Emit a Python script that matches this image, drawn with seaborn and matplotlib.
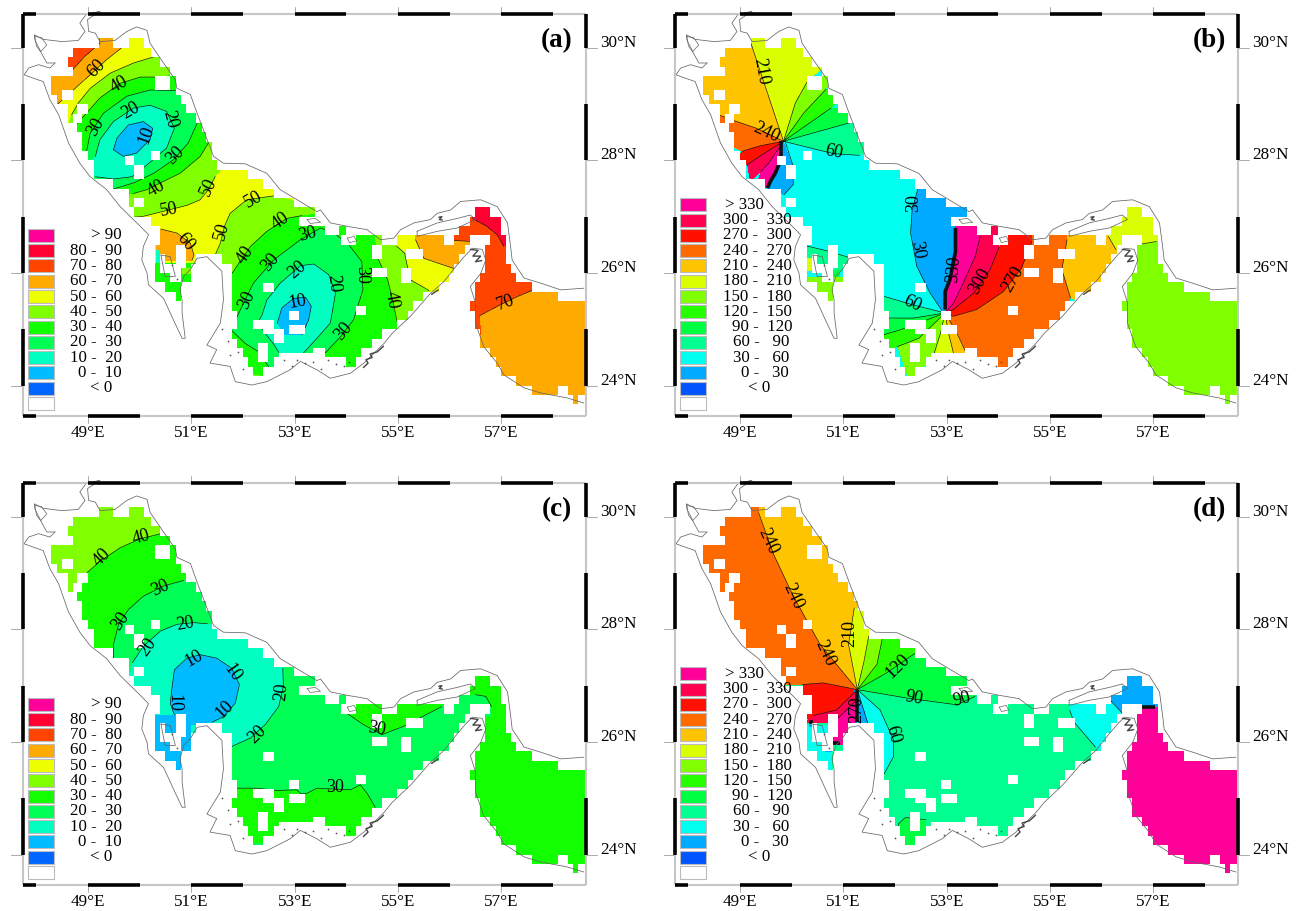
import numpy as np
import seaborn as sns
import matplotlib
matplotlib.use("Agg")
import matplotlib.pyplot as plt
from matplotlib.colors import ListedColormap
from matplotlib.patches import Rectangle
from matplotlib.path import Path

sns.set_style("white")
plt.rcParams['font.family'] = ['Liberation Serif', 'DejaVu Serif']
plt.rcParams['text.color'] = 'black'

# ---------------- shared map data (lon / lat) ----------------
ROW_TOP = 30.1667
ROW_H = 1 / 6
SEA_RUNS = [
 [(49.2,49.5),(49.8,50.1)],[(48.7,50.2)],[(48.6,50.4)],[(48.7,50.6)],[(48.3,50.7)],[(48.3,50.7)],
 [(48.4,50.8)],[(48.6,50.9)],[(48.6,51.1)],[(48.8,51.2)],[(48.9,51.3)],[(48.9,51.4)],[(49.0,51.4)],
 [(49.1,51.5)],[(49.1,52.1)],[(49.5,52.4)],[(49.8,52.6)],[(49.8,53.0)],[(49.9,53.4),(56.5,56.8)],
 [(50.2,53.1),(56.4,57.0)],[(50.4,54.0),(56.2,57.0)],[(50.4,54.7),(55.0,55.9),(56.1,56.4),(56.8,57.1)],
 [(50.3,56.3),(56.7,57.1)],[(50.3,51.1),(51.6,56.2),(56.7,57.1)],
 [(50.3,50.4),(50.8,51.0),(51.8,56.1),(56.7,57.2)],[(50.3,50.6),(50.8,51.0),(51.8,56.0),(56.6,57.3)],
 [(50.5,50.8),(51.8,55.8),(56.5,57.6)],[(50.7,50.8),(51.8,55.5),(56.5,58.1)],
 [(51.8,55.3),(56.4,58.63)],[(51.9,55.2),(56.5,58.63)],[(51.9,55.0),(56.5,58.63)],[(51.8,54.7),(56.6,58.63)],
 [(51.9,54.5),(56.6,58.63)],[(52.0,54.3),(56.8,58.63)],
 [(52.1,52.6),(54.0,54.2),(56.9,58.63)],[(52.2,52.4),(57.0,58.63)],[(57.3,58.63)],
 [(57.6,58.1),(58.3,58.63)],[(58.4,58.5)],
]
# blank cells: lat top, lat bottom, lon west, lon east
HOLES = [(29.5,29.25,50.3,50.6),(29.25,29.08,48.5,48.7),(29.0,28.83,48.8,49.0),(28.83,28.67,48.7,48.9),
 (28.17,28.0,50.2,50.4),(28.08,27.92,49.7,49.9),(27.92,27.67,49.9,50.1),(27.33,27.17,49.9,50.1),
 (25.83,25.67,52.4,52.6),(25.33,25.17,52.9,53.1),(25.17,25.0,52.2,52.6),(25.0,24.92,52.4,52.8),(24.92,24.75,52.6,52.8),
 (25.08,24.92,52.9,53.2),(24.75,24.42,52.3,52.5),(26.5,26.08,50.7,50.9),(26.33,26.08,50.4,50.5),
 (26.83,26.67,53.6,53.85),(26.67,26.5,53.9,54.2),(26.5,26.25,54.5,54.7),(26.42,26.25,55.15,55.5),
 (26.08,25.92,54.5,54.8),(26.08,25.83,55.05,55.25),(25.42,25.25,54.2,54.4),
 (24.58,24.5,52.7,53.6),(24.667,24.5,53.35,53.6)]

COAST_N = [(48.36,29.73),(48.20,29.73),(48.10,29.90),(47.97,30.14),(47.96,30.23),(48.13,30.15),(48.49,30.11),(48.81,30.13),
 (48.94,30.29),(48.84,30.44),(48.96,30.59),(49.23,30.65),(48.99,30.50),(49.01,30.29),(49.14,30.26),(49.23,30.11),
 (49.52,30.13),(49.75,30.29),(49.94,30.37),(50.14,30.31),(50.20,30.08),(50.46,29.73),(50.69,29.43),(50.72,29.28),
 (50.98,29.17),(51.11,28.84),(51.33,28.31),(51.43,28.07),(51.62,27.95),(52.04,27.94),(52.46,27.77),(52.72,27.48),
 (53.43,27.09),(53.50,27.12),(53.69,26.89),(54.01,26.83),(54.40,26.77),(54.66,26.59),(54.92,26.62),(55.05,26.77),
 (55.31,26.89),(55.63,26.95),(55.76,27.06),(56.02,27.12),(56.21,27.27),(56.60,27.30),(56.92,27.18),(57.12,26.89),
 (57.18,26.47),(57.21,26.23),(57.44,25.91),(57.76,25.82),(58.15,25.70),(58.60,25.73)]
COAST_S = [(48.36,29.73),(48.26,29.64),(48.04,29.70),(47.85,29.64),(47.76,29.52),(47.94,29.46),(48.13,29.40),(48.26,29.08),
 (48.43,28.81),(48.62,28.31),(48.84,27.95),(49.04,27.71),(49.36,27.48),(49.62,27.18),(50.01,26.83),(50.17,26.68),
 (50.07,26.47),(50.04,26.23),(50.14,26.00),(50.17,25.79),(50.46,25.55),(50.65,25.17),(50.82,24.84),(50.88,24.84),
 (50.82,25.29),(50.82,25.52),(50.78,25.70),(50.85,25.94),(50.98,26.06),(51.11,26.26),(51.30,26.29),(51.59,26.03),
 (51.62,25.52),(51.56,25.11),(51.30,24.72),(51.49,24.64),(51.36,24.40),(51.75,24.34),(51.85,24.07),(52.17,24.01),
 (52.46,24.07),(52.91,24.28),(53.11,24.43),(53.43,24.28),(53.69,24.13),(54.08,24.22),(54.34,24.40),(54.73,24.75),
 (54.89,24.93),(55.24,25.23),(55.63,25.64),(55.89,25.85),(56.15,26.15),(56.31,26.32),(56.44,26.44),(56.63,26.42),
 (56.70,26.23),(56.60,25.99),(56.40,25.76),(56.50,25.47),(56.50,25.11),(56.66,24.69),(56.92,24.40),(57.05,24.19),
 (57.44,23.96),(57.76,23.87),(58.28,23.78),(58.60,23.69)]
QESHM = [(55.37,26.74),(55.76,26.89),(56.15,26.97),(56.40,27.03),(56.50,26.95),(56.15,26.80),(55.76,26.74),(55.37,26.65),(55.37,26.74)]
BAHRAIN = [(50.41,26.32),(50.59,26.29),(50.69,25.94),(50.49,25.94),(50.41,26.32)]
ISLES = [
 [(53.24,26.95),(53.40,26.97),(53.5,26.90),(53.30,26.88),(53.24,26.95)],
 [(54.02,26.62),(54.15,26.65),(54.2,26.57),(54.06,26.54),(54.02,26.62)],
 [(47.97,30.2),(48.1,30.18),(48.2,30.05),(48.08,29.93),(48.0,30.03),(47.97,30.2)],
]
BLOTS = [
 [(54.33,24.32),(54.42,24.40),(54.38,24.46),(54.50,24.50),(54.46,24.56),(54.60,24.60),(54.72,24.70)],
 [(56.40,26.42),(56.55,26.40),(56.45,26.30),(56.60,26.30),(56.50,26.20),(56.62,26.22)],
 [(55.79,26.99),(55.85,27.0),(55.80,26.95),(55.86,26.94)],
 [(55.65,25.62),(55.78,25.70)],
]
ISLETS = [(50.62,26.14),(50.72,25.9),(51.6,25.0),(51.7,24.8),(51.9,24.6),(51.75,24.55),(52.0,24.3),(52.8,24.45),(52.95,24.35),
 (53.05,24.45),(53.2,24.4),(53.35,24.42),(53.5,24.3),(53.65,24.45),(53.8,24.38),(53.95,24.35),(54.05,24.42)]

LON_TICKS = [49, 51, 53, 55, 57]
LAT_TICKS = [30, 28, 26, 24]
BLACK_LON = [(47.73,48),(49,50),(51,52),(53,54),(55,56),(57,58)]
BLACK_LAT = [(30,30.6),(28,29),(26,27),(24,25)]

COL_AC = ['#0066FF','#00BBFF','#00FFC0','#00FF55','#11FF00','#80FF00','#EEFF00','#FFAA00','#FF4400','#FF0033','#FF0099']
COL_BD = ['#0055FF','#00AAFF','#00FFEE','#00FF90','#00FF40','#26FF00','#80FF00','#D9FF00','#FFC400','#FF6A00','#FF1000','#FF0050','#FF0099']
LEG_AC = ['> 90','80 -  90','70 -  80','60 -  70','50 -  60','40 -  50','30 -  40','20 -  30','10 -  20','0 -  10','< 0','']
LEG_BD = ['> 330','300 -  330','270 -  300','240 -  270','210 -  240','180 -  210','150 -  180','120 -  150','90 -  120',
          '60 -   90','30 -   60','0 -   30','< 0','']
LEG_RIGHT_AC = [122]*10 + [112, 122]
LEG_RIGHT_BD = [112] + [140]*8 + [137]*3 + [118, 140]

# ---------------- panel (a) ----------------
A70=[(49.23,30.08),(48.94,29.85),(48.68,29.59)]
A60=[(49.65,30.0),(49.36,29.79),(49.04,29.52),(48.75,29.28),(48.41,29.0)]
A50a=[(50.31,29.85),(49.88,29.73),(49.43,29.55),(49.04,29.28),(48.81,29.02),(48.68,28.81)]
A50b=[(51.46,27.71),(51.33,27.48),(51.17,27.30),(50.91,27.20),(50.52,27.11),(50.04,27.0),(49.85,26.99)]
A40a=[(50.46,29.48),(50.01,29.48),(49.62,29.37),(49.23,29.11),(48.91,28.78),(48.73,28.60)]
A40b=[(51.33,28.31),(51.17,28.07),(50.78,27.77),(50.40,27.60),(50.14,27.48),(49.87,27.41)]
A30a=[(50.69,29.24),(50.20,29.25),(49.75,29.14),(49.30,28.84),(49.04,28.48),(48.97,28.16)]
A30b=[(51.14,28.72),(50.94,28.31),(50.65,28.01),(50.27,27.77),(49.88,27.60),(49.49,27.49)]
A20=[(49.14,28.07),(49.23,28.37),(49.49,28.69),(49.88,28.93),(50.20,28.98),(50.52,28.87),(50.67,28.57),(50.52,28.22),
     (50.14,27.92),(49.85,27.71),(49.49,27.67),(49.14,27.71)]
A10=[(49.49,28.19),(49.56,28.40),(49.78,28.63),(50.07,28.69),(50.25,28.57),(50.20,28.37),(49.94,28.13),(49.68,28.07),(49.49,28.19)]
E50c=[(52.59,27.37),(52.07,27.30),(51.75,27.06),(51.64,26.83),(51.56,26.53),(51.46,26.32)]
E50r=[(54.97,26.48),(55.13,26.35),(55.18,26.12),(55.24,25.88),(55.60,25.69)]
E40=[(53.14,27.02),(52.85,26.97),(52.46,26.74),(52.14,26.47),(51.77,25.97)]
E40r=[(54.61,26.26),(54.80,25.88),(54.91,25.47),(54.98,25.14)]
E30a=[(51.86,25.17),(51.95,25.35),(52.20,25.82),(52.59,26.23),(53.11,26.59),(53.50,26.80),(53.76,26.71),(54.05,26.50),
      (54.30,26.20),(54.32,25.70),(54.14,25.17),(53.89,24.87),(53.59,24.58)]
E30b=[(52.53,24.28),(52.32,24.59),(52.04,24.75),(51.78,24.98)]
E20=[(52.69,24.59),(52.59,24.74),(52.40,24.96),(52.30,25.14),(52.37,25.26),(52.46,25.52),(52.72,25.82),(53.11,26.13),
     (53.37,26.16),(53.66,25.97),(53.79,25.64),(53.69,25.11),(53.43,24.84),(53.17,24.58)]
E10=[(52.66,25.10),(52.75,25.38),(52.98,25.55),(53.21,25.57),(53.32,25.41),(53.27,25.17),(53.14,24.90)]
W60=[(50.41,26.78),(50.72,26.71),(50.98,26.53),(51.05,26.32),(51.01,26.22)]
HW=[(55.34,26.59),(55.50,26.26),(56.11,26.07)]
HO=[(56.05,26.58),(56.40,26.56)]
L70=[(56.58,25.24),(56.99,25.44),(57.31,25.58),(57.70,25.73)]
H80=[(56.44,26.97),(56.72,26.83),(56.92,26.68),(57.05,26.47)]
A_BASE=6
A_REGIONS=[
 (7,A60+[(48.0,29.0),(48.0,30.4),(49.65,30.4)]),
 (8,A70+[(48.2,29.6),(48.2,30.3),(49.23,30.3)]),
 (5,A50a+[(48.3,28.0),(49.3,27.0)]+A50b[::-1]+[(52,28.3),(51,30.0)]),
 (4,A40a+[(48.4,28.3),(49.2,27.2)]+A40b[::-1]+[(51.8,28.5),(51.2,29.8)]),
 (3,A30a+[(48.6,27.9),(49.3,27.4)]+A30b[::-1]+[(51.6,28.9),(51.2,29.4)]),
 (2,A20+[(48.9,27.9)]),(1,A10),
 (5,E50c+[(51.4,25.5),(52,24.0),(54,24.4),(55.6,25.4)]+E50r[::-1]+[(54.8,26.9),(53.5,27.2)]),
 (4,E40+[(51.6,25.9),(51.6,24.3),(54,23.9),(55.3,24.9)]+E40r[::-1]+[(54.5,26.9),(53.8,27.1)]),
 (3,E30a+[(53.3,24.2)]+E30b+[(51.5,25.1)]),
 (2,E20+[(53.1,24.3),(52.7,24.3)]),(1,E10+[(52.79,24.90)]),
 (7,W60+[(50.3,26.2),(50.3,26.78)]),
 (4,[(50.0,26.17),(51.1,26.17),(51.1,25.3),(50.0,25.3)]),
 (5,[(50.8,26.08),(51.0,26.08),(51.0,25.98),(50.8,25.98)]),
 (2,[(50.3,26.41),(50.4,26.41),(50.4,26.17),(50.3,26.17)]),
 (7,[(56.3,23.4),(58.7,23.4),(58.7,27.3),(56.3,27.3)]),
 (7,HW+[(56.3,25.9),(56.3,26.9),(55.3,26.9)]),
 (8,HO+[(56.30,25.3),(56.3,24.9),(56.62,24.9)]+L70+[(58,26.2),(57.4,27.4),(56.3,27.4),(56.0,26.9)]),
 (9,H80+[(57.4,26.5),(57.4,27.3),(56.3,27.3)]),
]
A_LINES=[A70,A60,A50a,A50b,A40a,A40b,A30a,A30b,A20,A10,E50c,E50r,E40,E40r,E30a,E30b,E20,E10,W60,HW,HO,L70,H80]
A_LABELS=[('60',49.17,29.64,45),('40',49.61,29.34,30),('30',49.14,28.60,60),('20',49.83,28.89,30),('20',50.59,28.72,-75),
 ('10',50.12,28.45,70),('30',50.69,28.08,45),('40',50.31,27.49,30),('50',50.56,27.12,10),('50',51.34,27.53,65),
 ('50',52.20,27.30,30),('40',52.72,26.92,35),('50',51.59,26.74,75),('40',52.04,26.32,55),('30',52.53,26.19,50),
 ('20',53.04,26.06,40),('30',52.07,25.52,65),('10',53.06,25.49,10),('60',50.88,26.56,-50),('30',53.24,26.68,15),
 ('20',53.76,25.81,-85),('30',54.30,25.97,-90),('40',54.87,25.52,-80),('30',53.94,24.96,50),('70',57.08,25.48,20)]

# ---------------- panel (b) ----------------
P1=(49.84,28.34)
P2=(52.97,25.29)
B210=[P1,(49.21,30.08)]
B180=[P1,(50.07,29.02),(50.32,29.43)]
B150=[P1,(50.23,28.84),(50.66,29.26)]
B120=[P1,(50.76,28.93)]
B90=[P1,(51.13,28.67)]
B60=[P1,(50.36,28.22),(50.81,28.12),(51.31,28.09)]
B30=[(49.87,28.34),(50.02,27.92),(50.03,27.57),(49.85,27.39)]
B240=[P1,(49.32,28.57),(48.87,28.71),(48.58,28.81)]
B270=[P1,(49.39,28.26),(49.03,28.16)]
B300=[P1,(49.39,28.08),(49.13,27.92)]
B330=[P1,(49.55,27.95),(49.40,27.80)]
JAG=[(49.76,27.95),(49.68,27.77),(49.6,27.65),(49.53,27.51)]
B30e=[(52.49,27.66),(52.33,27.12),(52.30,26.71),(52.42,26.12),(52.68,25.64),(52.94,25.29)]
BLK=[(52.97,25.35),(52.97,25.67),(53.06,25.88),(53.17,26.38),(53.17,26.80)]
R330=[P2,(53.13,25.46),(53.32,25.82),(53.55,26.29),(53.65,26.65)]
R300=[P2,(53.13,25.35),(53.52,25.64),(53.84,26.06),(54.02,26.47)]
R270=[P2,(53.13,25.23),(53.58,25.35),(54.10,25.67),(54.45,26.09),(54.65,26.56)]
R240=[(55.33,26.59),(55.23,26.06),(55.40,25.55)]
R210=[(56.13,26.65),(56.28,26.41)]
R180o=[(56.68,26.50),(57.06,26.56)]
S60=[P2,(52.36,25.43),(51.77,25.59)]
S90=[P2,(52.36,25.20),(51.84,25.20)]
S120=[P2,(52.10,24.99),(51.77,24.90)]
S150=[P2,(52.46,24.84),(52.04,24.69)]
S180=[P2,(52.88,24.93),(52.75,24.55)]
S210=[P2,(53.02,24.99),(53.13,24.58)]
S240=[P2,(53.20,24.93),(53.36,24.61)]
BAY60=[(50.29,26.48),(50.74,26.38),(51.13,26.27)]
B_BASE=2
B_REGIONS=[
 (7,B210+[(49.15,30.5),(50.8,30.5),(51,29.9)]+B180[::-1]),
 (6,B180+[(50.9,29.6)]+B150[::-1]),
 (5,B150+[(51.2,29.3)]+B120[::-1]),
 (4,B120+[(51.6,28.9)]+B90[::-1]),
 (3,B90+[(51.8,28.3)]+B60[::-1]),
 (8,B240+[(48.2,29.0),(48.2,30.5),(49.15,30.5)]+B210[::-1]),
 (9,B270+[(48.3,28.5)]+B240[::-1]),
 (10,B300+[(48.7,27.9)]+B270[::-1]),
 (11,B330+[(49.2,27.6)]+B300[::-1]),
 (12,[P1,(49.55,27.95),(49.40,27.80),(49.3,27.5)]+JAG[::-1]+[(49.78,28.34)]),
 (1,[P1]+B30[1:]+[(49.53,27.45)]+JAG[::-1]+[(49.78,28.34)]),
 (1,B30e+BLK+[(53.17,26.85),(53.6,26.85),(53.6,27.5),(52.49,27.8)]),
 (12,R330+[(53.65,27.0),(53.17,27.0)]+BLK[::-1]),
 (11,R330+[(53.65,27),(54.02,27)]+R300[::-1]),
 (10,R300+[(54.02,27),(54.65,27)]+R270[::-1]),
 (9,R270+[(54.65,27),(55.33,27)]+R240+[(55,24.2),(53.36,24.2)]+S240[::-1]),
 (8,R240+[(56.3,25.2)]+R210[::-1]+[(56.13,27),(55.3,27)]),
 (6,[(56.3,23.4),(58.7,23.4),(58.7,26.56)]+R180o[::-1]+[(56.3,26.5)]),
 (7,R210+R180o+[(57.4,26.56),(57.4,27.3),(56.1,27.3)]),
 (3,S60+[(51.4,25.4)]+S90[::-1]),
 (4,S90+[(51.4,24.9)]+S120[::-1]),
 (5,S120+[(51.6,24.4)]+S150[::-1]),
 (6,S150+[(52.3,24.0)]+S180[::-1]),
 (7,S180+[(53.0,24.2)]+S210[::-1]),
 (8,S210+[(53.3,24.2)]+S240[::-1]),
 (3,BAY60+[(51.13,26.0),(50.2,26.2),(50.2,26.48)]),
 (4,[(50.76,26.06),(50.94,26.06),(50.94,25.91),(50.76,25.91)]),
 (6,[(50.3,25.92),(51.0,25.92),(51.0,25.3),(50.3,25.3)]),
 (7,[(50.29,26.26),(50.39,26.26),(50.39,26.03),(50.29,26.03)]),
]
B_LINES=[B210,B180,B150,B120,B90,B60,B30,B240,B270,B300,B330,B30e,R330,R300,R270,R240,R210,R180o,S60,S90,S120,S150,S180,S210,S240,BAY60]
B_THICK=[[(49.80,28.34),(49.80,28.07)],JAG,BLK]
B_LABELS=[('210',49.40,29.58,-80),('240',49.50,28.49,-25),('60',50.82,28.14,-10),('30',52.36,27.24,90),('30',52.42,26.41,-80),
 ('330',53.13,26.06,85),('60',52.33,25.46,-25),('300',53.65,25.85,60),('270',54.28,25.89,60)]

# ---------------- panel (c) ----------------
C40=[(50.41,29.70),(50.01,29.61),(49.62,29.45),(49.23,29.21),(48.96,28.99),(48.68,28.61)]
C30=[(50.85,28.87),(50.46,28.77),(50.07,28.59),(49.78,28.35),(49.59,28.09),(49.49,27.73),(49.49,27.49)]
C20a=[(51.31,28.10),(51.04,28.12),(50.72,28.09),(50.40,27.97),(50.07,27.70),(49.86,27.41)]
C20e=[(52.77,27.31),(52.78,26.99),(52.69,26.63),(52.43,26.31),(52.14,26.07),(51.78,25.92)]
C10=[(50.67,26.48),(50.59,26.69),(50.62,26.93),(50.67,27.28),(50.91,27.49),(51.17,27.55),(51.49,27.49),(51.78,27.31),
     (51.93,27.02),(51.85,26.69),(51.62,26.45),(51.40,26.35)]
C30s=[(51.87,25.18),(52.27,25.18),(52.65,25.14),(53.04,25.15),(53.12,25.08),(53.24,25.09),(53.43,25.18),(54.08,25.15),
      (54.27,25.24),(54.40,25.09),(54.56,24.84)]
C30n=[(54.01,26.51),(54.33,26.31),(54.69,26.13),(55.11,26.28),(55.85,26.63)]
C30h=[(56.50,26.84),(56.70,26.81),(56.81,26.63)]
C_BASE=3
C_REGIONS=[
 (4,C30+[(49.0,27.4),(48.2,28.0),(48.2,30.7),(51.2,29.5)]),
 (5,C40+[(48.2,28.5),(48.2,30.5),(50.5,30.5)]),
 (2,C20a+[(49.7,26.9),(50.0,26.5),(50.2,25.6),(51.0,25.3)]+C20e[::-1]+[(52.7,27.6),(51.6,28.1)]),
 (1,C10+[(51.0,26.3),(51.0,25.4),(50.2,25.4),(50.2,26.48)]),
 (4,C30s+[(55,24.2),(51.5,24.2),(51.5,25.18)]),
 (4,C30n+[(56.0,27.0),(54.0,27.0)]),
 (4,[(56.3,23.4),(58.7,23.4),(58.7,27.3),(56.3,27.3)]),
 (3,[(56.3,26.84)]+C30h+[(56.81,26.45),(56.3,26.45)]),
]
C_LINES=[C40,C30,C20a,C20e,C10,C30s,C30n,C30h]
C_LABELS=[('40',50.02,29.63,15),('40',49.26,29.27,45),('30',50.40,28.74,25),('30',49.62,28.14,55),('20',50.88,28.09,10),
 ('20',50.15,27.68,55),('10',51.04,27.48,30),('10',51.80,27.23,-55),('20',52.74,26.90,85),('10',50.67,26.70,-90),
 ('10',51.65,26.57,45),('20',52.27,26.13,45),('30',54.59,26.23,-10),('30',53.79,25.20,0)]

# ---------------- panel (d) ----------------
P3=(51.27,26.93)
D240=[P3,(50.55,27.73),(50.03,28.59),(49.65,29.33),(49.36,30.07)]
D270=[P3,(50.61,27.05),(50.20,27.02)]
D210=[P3,(51.10,27.73),(51.21,28.38)]
D180=[P3,(51.40,27.44),(51.49,27.88)]
D150=[P3,(51.65,27.38),(51.75,27.82)]
D120=[P3,(51.84,27.23),(52.49,27.64)]
D90=[P3,(52.23,26.78),(53.20,26.66),(53.55,26.81)]
D60=[P3,(51.71,26.57),(51.97,26.04),(51.97,25.74),(51.78,25.42)]
D30=[P3,(51.47,26.34)]
D300=[P3,(50.87,26.57),(50.42,26.47)]
D330=[P3,(51.23,26.72),(50.87,26.40)]
DO60=[(55.38,26.57),(55.46,26.36),(55.88,25.91)]
DO30=[(56.17,26.74),(56.40,26.51)]
DS120=[(52.04,24.30),(52.07,24.55),(52.20,24.66),(52.60,24.62)]
D_BASE=3
D_REGIONS=[
 (10,D270+[(50.2,26.4),(51.2,26.4)]),
 (9,D240+[(49.36,30.5),(48.2,30.5),(48.2,27.0)]+D270[::-1]),
 (8,D240+[(49.36,30.5),(52,30.5),(52,28.38)]+D210[::-1]),
 (7,D210+[(51.7,28.4)]+D180[::-1]),
 (6,D180+[(51.6,28.2)]+D150[::-1]),
 (5,D150+[(52.0,28.2),(52.8,27.9)]+D120[::-1]),
 (4,D120+[(52.8,27.8),(54,27.2)]+D90[::-1]),
 (2,D60+[(51.2,25.4)]+D30[::-1]),
 (1,D30+[(51.2,26.0),(51.2,26.93)]),
 (11,D300+[(50.2,26.33),(50.87,26.33)]+D330[::-1]),
 (12,D330+[(50.8,26.45),(50.8,25.95),(51.1,25.95),(51.25,26.36)]),
 (2,[(50.2,26.3),(50.78,26.3),(50.78,25.3),(50.2,25.3)]),
 (1,[(50.33,26.33),(50.42,26.33),(50.42,26.27),(50.33,26.27)]),
 (1,[(50.65,25.92),(50.78,25.92),(50.78,25.83),(50.65,25.83)]),
 (12,[(56.3,23.4),(58.7,23.4),(58.7,26.62),(56.3,26.62)]),
 (2,DO60+[(56.4,25.5)]+DO30[::-1]+[(56.1,27),(55.3,27)]),
 (1,DO30+[(56.8,26.62),(57.3,26.62),(57.3,27.3),(56.1,27.3)]),
 (4,DS120+[(52.6,24.0),(52.0,24.0)]),
]
D_LINES=[D240,D270,D210,D180,D150,D120,D90,D60,D30,D300,D330,DO60,DO30,DS120]
D_THICK=[[(51.27,26.93),(51.27,26.36)],[(56.77,26.62),(57.04,26.62)],[(50.33,26.36),(50.42,26.36)],[(50.78,25.98),(50.94,25.98)]]
D_LABELS=[('240',49.55,29.57,-65),('240',50.03,28.59,-65),('240',50.65,27.58,-65),('210',51.13,27.93,90),('120',52.05,27.34,45),
 ('90',52.36,26.78,-10),('90',53.30,26.75,15),('60',51.96,26.13,-75),('270',51.25,26.57,90)]

# ---------------- drawing ----------------
FIG_W, FIG_H = 1305, 911
PANEL_W, PANEL_H = 563, 402
LON0, LON1, LAT1, LAT0 = 47.73, 58.63, 30.60, 23.46
NX, NY = 545, 402
fig = plt.figure(figsize=(FIG_W/100, FIG_H/100), dpi=100, facecolor='white')

lon_c = LON0 + (np.arange(NX)+0.5)*(LON1-LON0)/NX
lat_c = LAT1 - (np.arange(NY)+0.5)*(LAT1-LAT0)/NY
LONS, LATS = np.meshgrid(lon_c, lat_c)
sea = np.zeros(LONS.shape, bool)
for i, runs in enumerate(SEA_RUNS):
    top = ROW_TOP - i*ROW_H
    band = (LATS <= top) & (LATS > top-ROW_H)
    for a, b in runs:
        sea |= band & (LONS >= a) & (LONS < b)
for t, bt, a, b in HOLES:
    sea &= ~((LATS <= t) & (LATS > bt) & (LONS >= a) & (LONS < b))
PTS = np.column_stack([LONS.ravel(), LATS.ravel()])
LAND = np.where(sea, np.nan, 0.0)

def gx(lon): return (np.asarray(lon)-LON0)/(LON1-LON0)*NX
def gy(lat): return (LAT1-np.asarray(lat))/(LAT1-LAT0)*NY
def trace(ax, pts, **kw):
    a = np.array(pts)
    ax.plot(gx(a[:,0]), gy(a[:,1]), **kw)

def panel(left, top, letter, colors, legend, leg_right, base, regions, lines, labels, thick=()):
    ax = fig.add_axes([left/FIG_W, 1-(top+PANEL_H)/FIG_H, PANEL_W/FIG_W, PANEL_H/FIG_H])
    grid = np.full(LONS.shape, float(base))
    for cls, poly in regions:
        inside = Path(poly+[poly[0]]).contains_points(PTS).reshape(LONS.shape)
        grid[inside] = cls
    grid[~sea] = np.nan
    sns.heatmap(grid, ax=ax, cmap=ListedColormap(colors), vmin=-0.5, vmax=len(colors)-0.5,
                cbar=False, xticklabels=False, yticklabels=False)
    # white land layer hides the isolines that run past the sea cells
    sns.heatmap(LAND, ax=ax, cmap=ListedColormap(['white']), cbar=False, xticklabels=False, yticklabels=False)
    ax.collections[-1].set_zorder(2.5)
    ax.set_xlim(0, NX); ax.set_ylim(NY, 0)
    for s in ax.spines.values():
        s.set_visible(False)
    for ln in lines:
        trace(ax, ln, color='#101010', lw=0.45, zorder=2)
    for ln in thick:
        trace(ax, ln, color='#101010', lw=2.6, solid_capstyle='butt', zorder=2)
    for c in (COAST_N, COAST_S, QESHM, BAHRAIN):
        trace(ax, c, color='#666666', lw=0.55, zorder=3, clip_on=False)
    for c in ISLES:
        trace(ax, c, color='#666666', lw=0.5, zorder=3)
    for c in BLOTS:
        trace(ax, c, color='#444444', lw=1.0, zorder=3)
    isl = np.array(ISLETS)
    ax.scatter(gx(isl[:,0]), gy(isl[:,1]), s=1.6, color='#555555', linewidths=0, zorder=3)
    for t, lo, la, rot in labels:
        ax.text(gx(lo), gy(la), t, fontsize=13, rotation=rot, ha='center', va='center', color='black', zorder=4,
                rotation_mode='anchor')
    # frame
    fr = dict(color='#c6c6c6', lw=1.5, clip_on=False, zorder=5, solid_capstyle='butt')
    blk = dict(color='black', lw=2.6, clip_on=False, zorder=6, solid_capstyle='butt')
    for yy in (0, NY):
        ax.plot([0, NX], [yy, yy], **fr)
        for a, b in BLACK_LON:
            ax.plot([gx(a), gx(b)], [yy, yy], **blk)
    for xx in (0, NX):
        ax.plot([xx, xx], [0, NY], **fr)
        for a, b in BLACK_LAT:
            ax.plot([xx, xx], [gy(a), gy(b)], **blk)
    tk = dict(color='#aaaaaa', lw=0.7, clip_on=False, zorder=4)
    for lo in LON_TICKS:
        ax.plot([gx(lo), gx(lo)], [-7, 0], **tk)
        ax.plot([gx(lo), gx(lo)], [NY, NY+7], **tk)
        ax.annotate(f'{lo}°E', xy=(gx(lo), NY), xytext=(0, -17), textcoords='offset pixels', ha='center', va='center',
                    fontsize=12.3, annotation_clip=False)
    for la in LAT_TICKS:
        ax.plot([-11*NX/PANEL_W, 0], [gy(la), gy(la)], **tk)
        ax.plot([NX, NX+11*NX/PANEL_W], [gy(la), gy(la)], **tk)
        ax.annotate(f'{la}°N', xy=(NX, gy(la)), xytext=(15, 5), textcoords='offset pixels', ha='left', va='center',
                    fontsize=12.3, annotation_clip=False)
    ax.text((557-22.5)/PANEL_W, 1-(41-14)/PANEL_H, letter, transform=ax.transAxes, fontsize=19.5, fontweight='bold',
            ha='center', va='center', zorder=6)
    # legend
    n = len(legend)
    ybot = 410
    for i, (txt, rx) in enumerate(zip(legend, leg_right)):
        y0 = ybot - 13 - (n-1-i)*15.28
        col = (colors[::-1]+['white'])[i]
        ax.add_patch(Rectangle(((28-22.5)/PANEL_W, 1-(y0+13-14)/PANEL_H), 26/PANEL_W, 13/PANEL_H, transform=ax.transAxes,
                               facecolor=col, edgecolor='#bbbbbb', lw=0.8, zorder=3))
        ax.text((rx-22.5)/PANEL_W, 1-(y0+6.5-14)/PANEL_H, txt, transform=ax.transAxes, fontsize=12.2, ha='right',
                va='center', zorder=4)
    return ax

DX, DY = 652, 469
panel(22.5, 14, '(a)', COL_AC, LEG_AC, LEG_RIGHT_AC, A_BASE, A_REGIONS, A_LINES, A_LABELS)
panel(22.5+DX, 14, '(b)', COL_BD, LEG_BD, LEG_RIGHT_BD, B_BASE, B_REGIONS, B_LINES, B_LABELS, B_THICK)
panel(22.5, 14+DY, '(c)', COL_AC, LEG_AC, LEG_RIGHT_AC, C_BASE, C_REGIONS, C_LINES, C_LABELS)
panel(22.5+DX, 14+DY, '(d)', COL_BD, LEG_BD, LEG_RIGHT_BD, D_BASE, D_REGIONS, D_LINES, D_LABELS, D_THICK)

fig.savefig('out.png', dpi=100, facecolor='white')
